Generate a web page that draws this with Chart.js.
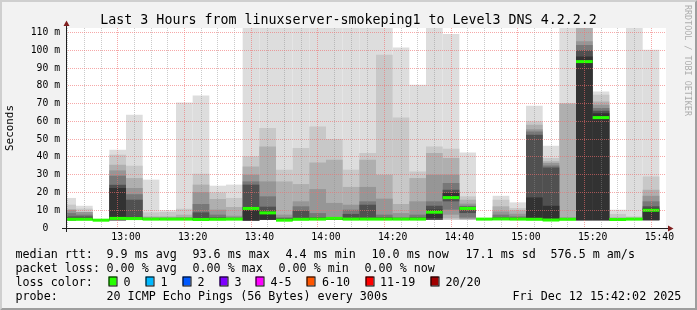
<!DOCTYPE html>
<html>
<head>
<meta charset="utf-8">
<title>SmokePing – Level3 DNS 4.2.2.2</title>
<script src="https://cdn.jsdelivr.net/npm/chart.js@4.4.1/dist/chart.umd.min.js"></script>
<style>
  html, body { margin: 0; padding: 0; background: #f2f2f2; overflow: hidden; }
  canvas { display: block; }
</style>
</head>
<body>
<canvas id="chart" width="697" height="310"></canvas>
<script>
// ----------------------------- data -----------------------------
const stepEnds = ['12:45','12:50','12:55','13:00','13:05','13:10','13:15','13:20','13:25','13:30',
                  '13:35','13:40','13:45','13:50','13:55','14:00','14:05','14:10','14:15','14:20',
                  '14:25','14:30','14:35','14:40','14:45','14:50','14:55','15:00','15:05','15:10',
                  '15:15','15:20','15:25','15:30','15:35','15:40'];

// median round-trip time (ms)
const medianRtt = [4.9,4.9,4.4,5.4,5.3,5.0,5.0,5.0,4.8,4.9, 5.0,11.0,8.5,4.4,4.9,5.0,5.4,5.0,5.0,5.0,
                   5.0,5.0,8.9,17.1,11.0,5.0,5.1,5.0,4.9,4.5, 4.9,93.6,62.1,4.8,5.0,10.0];

// smoke bands (outer -> inner), upper edges (ms)
const hi1 = [16.9,12.5,4.8,44.0,63.7,27.2,10.0,70.6,74.6,23.8, 24.4,113,113,113,113,113,113,113,113,113,
             101.6,80.6,113,109.1,42.5,5.4,18.1,14.4,68.7,46.3, 113,113,76.8,10.3,113,100.3];
const hi2 = [13.1,10.9,4.7,41.2,35.0,8.8,9.0,10.8,30.5,20.0, 16.9,40.3,56.2,32.8,45.0,57.1,50.0,32.8,42.2,97.5,
             62.2,31.8,45.9,44.6,17.8,5.3,15.9,11.2,60.0,39.4, 70.0,113,75.0,7.9,6.5,29.0];
const hi3 = [10.3,9.0,4.7,35.6,28.1,6.5,6.5,7.5,24.4,16.3, 11.8,34.6,45.9,26.2,24.7,36.9,38.4,23.1,38.4,30.0,
             13.5,28.1,42.2,39.4,15.9,5.3,12.2,9.9,58.1,37.5, 70.0,113,71.2,6.0,5.8,21.5];
const hi4 = [10.3,9.0,4.6,32.4,22.5,6.0,6.0,6.2,20.2,10.3, 6.9,30.0,26.2,7.5,15.0,21.9,14.1,13.1,23.1,16.5,
             8.4,15.0,30.0,30.0,13.7,5.2,9.3,8.0,55.5,36.5, 6.0,105,69.3,5.5,5.5,18.1];
const hi5 = [8.4,7.5,4.6,29.4,19.0,5.6,5.6,5.7,13.5,7.5, 6.0,26.2,17.8,6.0,12.2,8.4,6.0,10.3,15.0,7.5,
             6.0,7.5,15.0,25.3,12.5,5.2,7.5,6.5,54.3,35.2, 5.6,103,67.5,5.2,5.3,15.0];
const hi6 = [6.5,6.5,4.5,24.3,15.9,5.3,5.3,5.4,8.8,6.0, 5.5,24.4,12.0,5.5,9.7,6.0,5.6,7.9,13.1,6.0,
             5.6,6.0,12.5,21.5,12.0,5.1,6.0,5.8,52.5,34.1, 5.3,100,66.0,5.0,5.2,12.2];
const hi7 = [5.2,5.3,4.5,22.5,6.0,5.1,5.1,5.2,5.5,5.3, 5.2,11.8,9.3,5.0,5.5,5.3,5.4,5.5,5.5,5.5,
             5.3,5.5,10.3,19.7,11.5,5.1,5.5,5.4,17.2,12.5, 5.1,96.5,64.5,4.9,5.1,11.0];

// smoke bands, lower edges (ms)
const pingMin = [4.4,4.5,4.3,4.4,4.5,4.6,4.6,4.6,4.4,4.6, 4.6,4.2,4.6,4.2,4.5,4.6,4.6,4.6,4.6,4.6,
                 4.6,4.6,4.6,4.5,4.5,4.7,4.6,4.6,4.5,4.2, 4.5,4.3,4.4,4.3,4.6,4.4];
const lo2 = [4.4,4.5,4.3,4.4,4.5,4.6,4.6,4.6,4.4,4.6, 4.6,4.2,4.6,4.2,4.5,4.6,4.6,4.6,4.6,4.6,
             4.6,4.6,4.6,4.6,4.7,4.7,4.6,4.6,4.5,4.2, 4.5,4.3,4.4,4.3,4.6,4.4];
const lo3 = [4.4,4.5,4.3,4.4,4.5,4.6,4.6,4.6,4.4,4.6, 4.6,4.2,4.6,4.2,4.5,4.6,4.6,4.6,4.6,4.6,
             4.6,4.6,4.6,5.5,4.8,4.7,4.6,4.6,4.5,4.2, 4.5,4.3,4.4,4.3,4.6,4.4];
const lo4 = [4.4,4.5,4.3,4.4,4.5,4.6,4.6,4.6,4.4,4.6, 4.6,4.2,4.6,4.2,4.5,4.6,4.6,4.6,4.6,4.6,
             4.6,4.6,4.6,7.5,5.2,4.7,4.6,4.6,4.5,4.2, 4.5,4.3,4.4,4.3,4.6,4.4];
const lo5 = [4.4,4.5,4.3,4.4,4.5,4.6,4.6,4.6,4.4,4.6, 4.6,4.2,4.6,4.2,4.5,4.6,4.6,4.6,4.6,4.6,
             4.6,4.6,4.6,10.3,5.9,4.7,4.6,4.6,4.5,4.2, 4.5,4.3,4.4,4.3,4.6,4.4];
const lo6 = [4.4,4.5,4.3,4.4,4.5,4.6,4.6,4.6,4.4,4.6, 4.6,4.2,4.6,4.2,4.5,4.6,4.6,4.6,4.6,4.6,
             4.6,4.6,4.6,15.0,8.4,4.7,4.6,4.6,4.5,4.2, 4.5,4.3,4.4,4.3,4.6,4.4];
const lo7 = [4.4,4.5,4.3,4.4,4.5,4.6,4.6,4.6,4.4,4.6, 4.6,4.2,4.6,4.2,4.5,4.6,4.6,4.6,4.6,4.6,
             4.6,4.6,5.5,16.5,10.3,4.7,4.6,4.6,4.5,4.2, 4.5,4.3,4.4,4.3,4.6,4.4];

// tick labels
const xTickLabels = ['13:00','13:20','13:40','14:00','14:20','14:40','15:00','15:20','15:40'];
const yTickValues = [0,10,20,30,40,50,60,70,80,90,100,110];
const yTickLabels = ['0  ','10 m','20 m','30 m','40 m','50 m','60 m','70 m','80 m','90 m','100 m','110 m'];

// texts
const titleText = 'Last 3 Hours from linuxserver-smokeping1 to Level3 DNS 4.2.2.2';
const yAxisTitle = 'Seconds';
const rttSummary = ['9.9 ms avg','93.6 ms max','4.4 ms min','10.0 ms now','17.1 ms sd','576.5 m am/s'];
const lossSummary = ['0.00 % avg','0.00 % max','0.00 % min','0.00 % now'];
const lossLabels = ['0','1','2','3','4-5','6-10','11-19','20/20'];
const lossColors = ['#26ff00','#00b8ff','#0059ff','#7e00ff','#ff00ff','#ff5500','#ff0000','#a10000'];
const probeText = '20 ICMP Echo Pings (56 Bytes) every 300s';
const stampText = 'Fri Dec 12 15:42:02 2025';
const watermark = 'RRDTOOL / TOBI OETIKER';

// ----------------------------- helpers -----------------------------
const toMin = s => { const [h, m] = s.split(':').map(Number); return h * 60 + m; };
const fmt = v => String(Math.floor(v / 60)).padStart(2, '0') + ':' + String(Math.round(v % 60)).padStart(2, '0');
const STEP = 5;
const X_MIN = toMin('12:42'), X_MAX = toMin('15:42');
const Y_MAX = 112.5;
const centers = stepEnds.map(s => toMin(s) - STEP / 2);

const MONO = "'DejaVu Sans Mono', monospace";
const GRID = 'rgba(140,140,140,0.45)';
const MGRID = 'rgba(240,110,110,0.6)';
const tickVal = c => (c && c.tick) ? c.tick.value : null;

const bandHi = [hi1, hi2, hi3, hi4, hi5, hi6, hi7];
const bandLo = [pingMin, lo2, lo3, lo4, lo5, lo6, lo7];
const bandGray = [221, 200, 175, 150, 120, 80, 50];

const barCommon = { borderWidth: 0, barPercentage: 1, categoryPercentage: 1, grouped: false, clip: 0, inflateAmount: 0 };
const datasets = bandHi.map((hi, j) => Object.assign({
  label: 'smoke ' + (j + 1),
  data: centers.map((x, i) => ({ x, y: [bandLo[j][i], hi[i]] })),
  backgroundColor: `rgb(${bandGray[j]},${bandGray[j]},${bandGray[j]})`,
  order: 10 - j
}, barCommon));
datasets.push(Object.assign({
  label: 'median rtt',
  data: centers.map((x, i) => ({ x, y: [medianRtt[i] - 0.85, medianRtt[i] + 0.85] })),
  backgroundColor: lossColors[0],
  order: 0
}, barCommon));

// ----------------------------- decorations -----------------------------
const decor = {
  id: 'decor',
  beforeDraw(chart) {
    const ctx = chart.ctx, W = chart.width, H = chart.height, a = chart.chartArea;
    ctx.save();
    ctx.fillStyle = '#f2f2f2';
    ctx.fillRect(0, 0, W, H);
    // 3d border
    ctx.fillStyle = '#cfcfcf';
    ctx.beginPath();
    ctx.moveTo(0, H); ctx.lineTo(2, H - 2); ctx.lineTo(2, 2); ctx.lineTo(W - 2, 2); ctx.lineTo(W, 0); ctx.lineTo(0, 0);
    ctx.closePath(); ctx.fill();
    ctx.fillStyle = '#9e9e9e';
    ctx.beginPath();
    ctx.moveTo(2, H - 2); ctx.lineTo(W - 2, H - 2); ctx.lineTo(W - 2, 2); ctx.lineTo(W, 0); ctx.lineTo(W, H); ctx.lineTo(0, H);
    ctx.closePath(); ctx.fill();
    // canvas
    ctx.fillStyle = '#ffffff';
    ctx.fillRect(a.left, a.top, a.right - a.left, a.bottom - a.top);
    ctx.restore();
  },
  afterDraw(chart) {
    const ctx = chart.ctx, a = chart.chartArea;
    ctx.save();
    // axes
    ctx.strokeStyle = '#1f1f1f';
    ctx.lineWidth = 1;
    ctx.setLineDash([]);
    ctx.beginPath();
    ctx.moveTo(a.left - 4, a.bottom + 0.5); ctx.lineTo(a.right + 4, a.bottom + 0.5);
    ctx.moveTo(a.left + 0.5, a.bottom + 4); ctx.lineTo(a.left + 0.5, a.top - 4);
    ctx.stroke();
    ctx.fillStyle = '#801f1f';
    ctx.beginPath();
    ctx.moveTo(a.right + 2, a.bottom - 2.5); ctx.lineTo(a.right + 2, a.bottom + 3.5); ctx.lineTo(a.right + 7.5, a.bottom + 0.5);
    ctx.closePath(); ctx.fill();
    ctx.beginPath();
    ctx.moveTo(a.left - 2.5, a.top - 2); ctx.lineTo(a.left + 3.5, a.top - 2); ctx.lineTo(a.left + 0.5, a.top - 7.5);
    ctx.closePath(); ctx.fill();

    // title
    ctx.fillStyle = '#000';
    ctx.textBaseline = 'alphabetic';
    ctx.textAlign = 'center';
    ctx.font = `13.3px ${MONO}`;
    ctx.fillText(titleText, chart.width / 2, 24);

    // legend block
    ctx.textAlign = 'left';
    ctx.font = `11.7px ${MONO}`;
    const L = 15.5;
    const rows = [258, 272, 286, 300];
    ctx.fillText('median rtt:', L, rows[0]);
    [106.5, 192.5, 285.5, 371.5, 465.5, 550.5].forEach((x, i) => ctx.fillText(rttSummary[i], x, rows[0]));
    ctx.fillText('packet loss:', L, rows[1]);
    [106.5, 192.5, 278.5, 364.5].forEach((x, i) => ctx.fillText(lossSummary[i], x, rows[1]));
    ctx.fillText('loss color:', L, rows[2]);
    const boxX = [108.5, 145.5, 182.5, 219.5, 255.5, 306.5, 365.5, 430.5];
    const labX = [123.5, 160.5, 197.5, 234.5, 270.5, 322, 380, 445.5];
    boxX.forEach((x, i) => {
      ctx.fillStyle = lossColors[i];
      ctx.fillRect(x, rows[2] - 9.5, 8, 9);
      ctx.strokeStyle = '#000';
      ctx.lineWidth = 1;
      ctx.strokeRect(x + 0.5, rows[2] - 9, 8, 9);
      ctx.fillStyle = '#000';
      ctx.fillText(lossLabels[i], labX[i], rows[2]);
    });
    ctx.fillText('probe:', L, rows[3]);
    ctx.fillText(probeText, 106.5, rows[3]);
    ctx.fillText(stampText, 512.5, rows[3]);

    // watermark
    ctx.save();
    ctx.translate(chart.width - 6, 5);
    ctx.rotate(Math.PI / 2);
    ctx.textBaseline = 'top';
    ctx.fillStyle = 'rgba(0,0,0,0.3)';
    ctx.font = `8.4px ${MONO}`;
    ctx.fillText(watermark, 0, 0);
    ctx.restore();
    ctx.restore();
  }
};

// ----------------------------- chart -----------------------------
new Chart(document.getElementById('chart'), {
  type: 'bar',
  data: { datasets },
  options: {
    responsive: false,
    animation: false,
    devicePixelRatio: 1,
    layout: { padding: { left: 0, right: 31, top: 28, bottom: 0 } },
    plugins: { legend: { display: false }, tooltip: { enabled: false }, title: { display: false } },
    scales: {
      x: {
        type: 'linear', min: X_MIN, max: X_MAX, offset: false,
        afterBuildTicks: s => {
          const t = [];
          for (let v = toMin(stepEnds[0]); v <= X_MAX; v += STEP) t.push({ value: v });
          s.ticks = t;
        },
        afterFit: s => { s.height = 82; },
        ticks: {
          autoSkip: false, maxRotation: 0, minRotation: 0, padding: 4, color: '#000',
          font: { family: MONO, size: 9.75 },
          callback: v => xTickLabels.includes(fmt(v)) ? fmt(v) : ''
        },
        grid: {
          z: 1, drawTicks: false, lineWidth: 1,
          color: c => { const v = tickVal(c); return v !== null && xTickLabels.includes(fmt(v)) ? MGRID : GRID; }
        },
        border: { display: false, dash: [1, 1] }
      },
      y: {
        type: 'linear', min: 0, max: Y_MAX,
        afterBuildTicks: s => {
          const t = [];
          for (let v = 0; v <= 110; v += 5) t.push({ value: v });
          s.ticks = t;
        },
        afterFit: s => { s.width = 66; },
        ticks: {
          padding: 6, color: '#000', font: { family: MONO, size: 9.75 },
          callback: v => { const k = yTickValues.indexOf(v); return k >= 0 ? yTickLabels[k] : ''; }
        },
        grid: {
          z: 1, drawTicks: false, lineWidth: 1,
          color: c => { const v = tickVal(c); if (v === 0) return 'rgba(0,0,0,0)'; return v !== null && yTickValues.includes(v) ? MGRID : GRID; }
        },
        border: { display: false, dash: [1, 1] },
        title: { display: true, text: yAxisTitle, color: '#000', font: { family: MONO, size: 10.9 }, padding: { top: 4, bottom: 0 } }
      }
    }
  },
  plugins: [decor]
});
</script>
</body>
</html>
